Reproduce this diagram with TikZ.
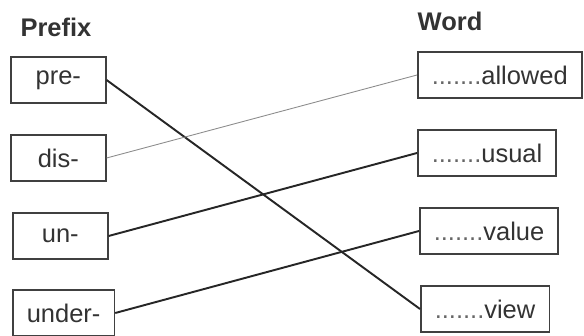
\documentclass[tikz,border=0pt]{standalone}
\usepackage{fontspec}
\setmainfont{Liberation Sans}
\usepackage{tikz}
\usetikzlibrary{positioning}

\begin{document}
\begin{tikzpicture}[
        font=\fontsize{14.5}{17}\selectfont,
        text=black!80,
        box/.style={draw=black!75, line width=0.9pt, minimum height=0.92cm, inner xsep=0.28cm},
        prefixbox/.style={box, minimum width=1.9cm},
        title/.style={font=\fontsize{14.5}{17}\selectfont\bfseries},
        link/.style={draw=black!85, line width=1.1pt}
    ]
        \useasboundingbox (0,0) rectangle (11.68,-6.72);

        \node[title] (prefix) at (1.12,-0.54) {Prefix};
        \node[title] (word) at (9.0,-0.42) {Word};

        % prefixes
        \node[prefixbox, anchor=west] (pre) at (0.2,-1.6) {pre-};
        \node[prefixbox, anchor=west] (dis) at (0.2,-3.16) {dis-};
        \node[prefixbox, anchor=west] (un) at (0.24,-4.72) {un-};
        \node[prefixbox, anchor=west] (under) at (0.24,-6.26) {under-};

        % words
        \node[box, anchor=west] (allowed) at (8.34,-1.5) {{\color{black!60}.......}allowed};
        \node[box, anchor=west] (usual) at (8.34,-3.06) {{\color{black!60}.......}usual};
        \node[box, anchor=west] (value) at (8.38,-4.62) {{\color{black!60}.......}value};
        \node[box, anchor=west] (view) at (8.4,-6.18) {{\color{black!60}.......}view};

        \draw[link] (pre.east) -- (view.west);
        \draw[draw=black!45, line width=0.5pt] (dis.east) -- (allowed.west);
        \draw[link] (un.east) -- (usual.west);
        \draw[link] (under.east) -- (value.west);

    \end{tikzpicture}
\end{document}
